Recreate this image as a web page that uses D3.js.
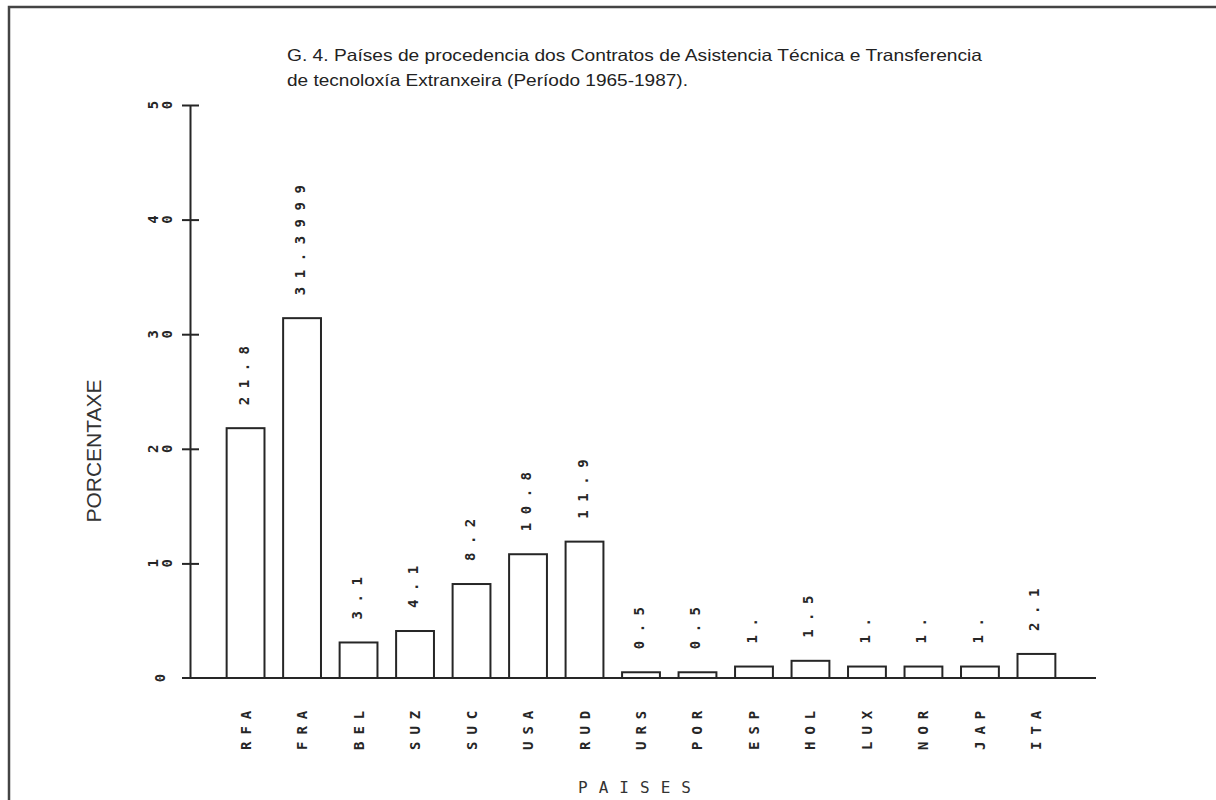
<!DOCTYPE html>
<meta charset="utf-8">
<head>
<script src="https://d3js.org/d3.v7.min.js"></script>
<style>
body { margin: 0; background: #fff; }
</style>
</head>
<body>
<svg id="chart"></svg>
<script>
// data
var paises = ["RFA", "FRA", "BEL", "SUZ", "SUC", "USA", "RUD", "URS", "POR", "ESP", "HOL", "LUX", "NOR", "JAP", "ITA"];
var porcentaxe = [21.8, 31.3999, 3.1, 4.1, 8.2, 10.8, 11.9, 0.5, 0.5, 1, 1.5, 1, 1, 1, 2.1];
var etiquetas = ["21.8", "31.3999", "3.1", "4.1", "8.2", "10.8", "11.9", "0.5", "0.5", "1.", "1.5", "1.", "1.", "1.", "2.1"];
var yTicks = [0, 10, 20, 30, 40, 50];
var titulo = ["G. 4. Países de procedencia dos Contratos de Asistencia Técnica e Transferencia",
              "de tecnoloxía Extranxeira (Período 1965-1987)."];

var width = 1216, height = 800;
var ink = "#262626";
var mono = "'DejaVu Sans Mono', 'Liberation Mono', monospace";
var sans = "'Liberation Sans', Arial, sans-serif";

var svg = d3.select("#chart").attr("width", width).attr("height", height);

// scanned page frame
svg.append("path")
   .attr("d", "M9,800 V7 H1216")
   .attr("fill", "none").attr("stroke", "#444").attr("stroke-width", 2.5);

var x = d3.scaleBand().domain(paises).range([208, 1074]).padding(0.33);
var y = d3.scaleLinear().domain([0, 50]).range([678, 105]);
var axisX = 190;

// title
svg.selectAll(".titulo")
   .data(titulo)
   .enter().append("text")
   .attr("x", 287)
   .attr("y", function(d, i) { return 61 + i * 25; })
   .attr("textLength", function(d, i) { return i === 0 ? 695 : 401; })
   .attr("lengthAdjust", "spacingAndGlyphs")
   .style("font-family", sans).style("font-size", "16.5px").style("fill", "#222")
   .text(function(d) { return d; });

// y axis with ticks crossing the line
var gy = svg.append("g")
   .attr("transform", "translate(" + axisX + ",0)")
   .call(d3.axisLeft(y).tickValues(yTicks).tickSize(8).tickSizeOuter(0).tickFormat(""));
gy.select(".domain").attr("stroke", ink).attr("stroke-width", 2);
gy.selectAll(".tick line").attr("x1", 9).attr("stroke", ink).attr("stroke-width", 2)
  .filter(function(d) { return d === 0; }).remove();

// tick labels: plotter glyphs each turned sideways
yTicks.forEach(function(v) {
    var chars = String(v).split("");
    chars.forEach(function(c, i) {
        svg.append("text")
           .attr("transform", "translate(" + (160 - (chars.length - 1) * 7 + i * 14) + "," + y(v) + ") rotate(-90)")
           .attr("text-anchor", "middle")
           .attr("dominant-baseline", "central")
           .style("font-family", mono).style("font-size", "14px").style("font-weight", "bold")
           .style("fill", ink)
           .text(c);
    });
});

// x axis line
svg.append("line")
   .attr("x1", 182).attr("x2", 1096)
   .attr("y1", y(0)).attr("y2", y(0))
   .attr("stroke", ink).attr("stroke-width", 2);

// bars
svg.selectAll(".bar")
   .data(paises)
   .enter().append("rect")
   .attr("x", function(d) { return x(d); })
   .attr("y", function(d, i) { return y(porcentaxe[i]); })
   .attr("width", x.bandwidth())
   .attr("height", function(d, i) { return y(0) - y(porcentaxe[i]); })
   .attr("fill", "#fff").attr("stroke", ink).attr("stroke-width", 2);

// value labels, vertical above each bar
svg.selectAll(".valor")
   .data(paises)
   .enter().append("text")
   .attr("transform", function(d, i) {
       return "translate(" + (x(d) + x.bandwidth() / 2 - 2) + "," + (y(porcentaxe[i]) - 23) + ") rotate(-90)";
   })
   .attr("dominant-baseline", "central")
   .style("font-family", mono).style("font-size", "14px").style("font-weight", "bold")
   .style("letter-spacing", "8.5px").style("fill", ink)
   .text(function(d, i) { return etiquetas[i]; });

// category labels below the axis
svg.selectAll(".pais")
   .data(paises)
   .enter().append("text")
   .attr("transform", function(d) {
       return "translate(" + (x(d) + x.bandwidth() / 2) + ",750) rotate(-90)";
   })
   .attr("dominant-baseline", "central")
   .style("font-family", mono).style("font-size", "14px").style("font-weight", "bold")
   .style("letter-spacing", "7px").style("fill", ink)
   .text(function(d) { return d; });

// axis titles
svg.append("text")
   .attr("x", 640).attr("y", 793)
   .attr("text-anchor", "middle")
   .style("font-family", mono).style("font-size", "16px")
   .style("letter-spacing", "11px").style("fill", "#333")
   .text("PAISES");

svg.append("text")
   .attr("transform", "translate(101,451) rotate(-90)")
   .attr("text-anchor", "middle")
   .style("font-family", sans).style("font-size", "21px").style("fill", "#333")
   .text("PORCENTAXE");
</script>
</body>
